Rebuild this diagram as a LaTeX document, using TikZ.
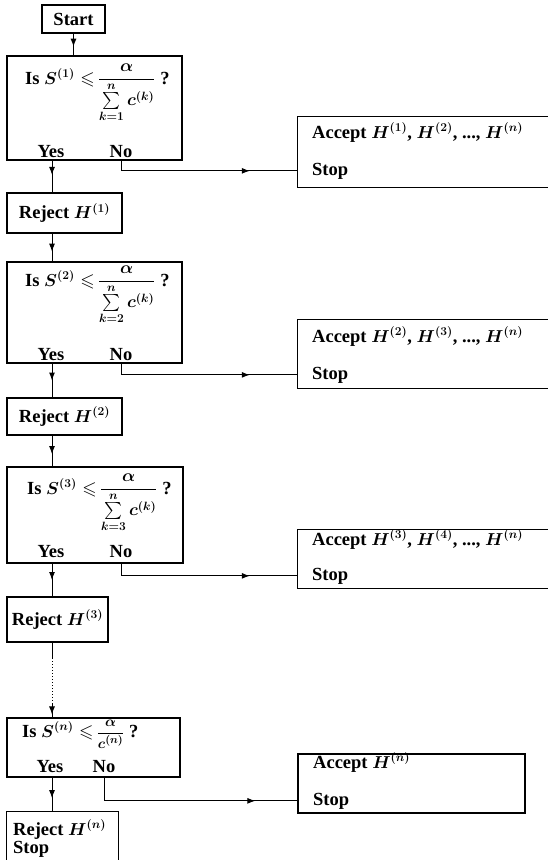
\documentclass[tikz,border=0pt]{standalone}
\usepackage{amsmath,amssymb}
\usepackage{fontspec}
\setmainfont{Liberation Serif}
\usetikzlibrary{arrows.meta,decorations.markings}
\newcommand{\fracsize}{\fontsize{17}{19}\selectfont}
\tikzset{
  frame/.style={draw, line width=1.3pt, rectangle, inner sep=0pt},
  openframe/.style={line width=1.3pt},
  hidden/.style={rectangle, inner sep=0pt},
  conn/.style={line width=1pt},
  midarrow/.style={postaction={decorate}, decoration={markings, mark=at position #1 with {\arrow{Latex[length=8pt,width=6pt]}}}},
  txt/.style={inner sep=0pt, font=\fontsize{18.5}{22}\selectfont\bfseries\boldmath},
}
\begin{document}
\begin{tikzpicture}[x=1pt,y=-1pt]
\useasboundingbox (0,0) rectangle (548,860);
\fill[white] (0,0) rectangle (548,860);
\coordinate (spine) at (52,0);

% Start
\node[frame, txt, minimum width=63pt, minimum height=28pt] (start) at (73.5,19) {Start};

% Question 1
\node[frame, minimum width=175pt, minimum height=104pt] (q1) at (94.5,108) {};
\node[txt, anchor=base west] (q1q) at (25,84) {Is $S^{(1)}\leqslant$\,{\fracsize$\dfrac{\alpha}{\sum\limits_{k=1}^{n} c^{(k)}}$}\ ?};
\node[txt, anchor=base] (y1) at (51,157) {Yes};
\node[txt, anchor=base] (n1) at (121,157) {No};

% Accept 1
\node[hidden, minimum width=250pt, minimum height=70pt] (acc1) at (423,152) {};
\draw[openframe] (acc1.north east) -- (acc1.north west) -- (acc1.south west) -- (acc1.south east);
\node[txt, anchor=base west] (a1t) at (312,138) {Accept $H^{(1)}$, $H^{(2)}$, ..., $H^{(n)}$};
\node[txt, anchor=base west] (a1s) at (312,175) {Stop};

% Reject 1
\node[frame, txt, minimum width=115pt, minimum height=40pt] (rej1) at (64.5,213) {Reject $H^{(1)}$};

% Question 2
\node[frame, minimum width=175pt, minimum height=101pt] (q2) at (94.5,312.5) {};
\node[txt, anchor=base west] (q2q) at (25,286) {Is $S^{(2)}\leqslant$\,{\fracsize$\dfrac{\alpha}{\sum\limits_{k=2}^{n} c^{(k)}}$}\ ?};
\node[txt, anchor=base] (y2) at (51,360) {Yes};
\node[txt, anchor=base] (n2) at (121,360) {No};

% Accept 2
\node[hidden, minimum width=250pt, minimum height=68pt] (acc2) at (423,354) {};
\draw[openframe] (acc2.north east) -- (acc2.north west) -- (acc2.south west) -- (acc2.south east);
\node[txt, anchor=base west] (a2t) at (312,342) {Accept $H^{(2)}$, $H^{(3)}$, ..., $H^{(n)}$};
\node[txt, anchor=base west] (a2s) at (312,379) {Stop};

% Reject 2
\node[frame, txt, minimum width=115pt, minimum height=37pt] (rej2) at (64.5,416.5) {Reject $H^{(2)}$};

% Question 3
\node[frame, minimum width=176pt, minimum height=96pt] (q3) at (95,515) {};
\node[txt, anchor=base west] (q3q) at (27,494) {Is $S^{(3)}\leqslant$\,{\fracsize$\dfrac{\alpha}{\sum\limits_{k=3}^{n} c^{(k)}}$}\ ?};
\node[txt, anchor=base] (y3) at (51,557) {Yes};
\node[txt, anchor=base] (n3) at (121,557) {No};

% Accept 3
\node[hidden, minimum width=250pt, minimum height=58pt] (acc3) at (423,559) {};
\draw[openframe] (acc3.north east) -- (acc3.north west) -- (acc3.south west) -- (acc3.south east);
\node[txt, anchor=base west] (a3t) at (312,545) {Accept $H^{(3)}$, $H^{(4)}$, ..., $H^{(n)}$};
\node[txt, anchor=base west] (a3s) at (312,580) {Stop};

% Reject 3
\node[frame, txt, minimum width=101pt, minimum height=45pt] (rej3) at (57.5,619.5) {Reject $H^{(3)}$};

% Question n
\node[frame, minimum width=173pt, minimum height=59pt] (q4) at (93.5,747.5) {};
\node[txt, anchor=base west] (q4q) at (22,737) {Is $S^{(n)}\leqslant$\,{\fontsize{15}{17}\selectfont$\dfrac{\alpha}{c^{(n)}}$}\ ?};
\node[txt, anchor=base] (y4) at (50,772) {Yes};
\node[txt, anchor=base] (n4) at (104,772) {No};

% Accept n
\node[frame, minimum width=227pt, minimum height=59pt] (acc4) at (411.5,783.5) {};
\node[txt, anchor=base west] (a4t) at (313,768) {Accept $H^{(n)}$};
\node[txt, anchor=base west] (a4s) at (313,805) {Stop};

% Reject n
\node[hidden, minimum width=111pt, minimum height=48pt] (rejn) at (62.5,836) {};
\draw[openframe] (rejn.south west) -- (rejn.north west) -- (rejn.north east) -- (rejn.south east);
\node[txt, anchor=base west] (rnt) at (13,835) {Reject $H^{(n)}$};
\node[txt, anchor=base west] (rns) at (13,853) {Stop};

% Connectors
\draw[conn, midarrow=0.6] (start.south) -- (start.south |- q1.north);
\draw[conn, midarrow=0.45] (spine |- q1.south) -- (spine |- rej1.north);
\draw[conn, midarrow=-48pt] (n1 |- q1.south) |- (acc1.west |- a1s);
\draw[conn, midarrow=0.65] (spine |- rej1.south) -- (spine |- q2.north);
\draw[conn, midarrow=0.5] (spine |- q2.south) -- (spine |- rej2.north);
\draw[conn, midarrow=-48pt] (n2 |- q2.south) |- (acc2.west |- a2s);
\draw[conn, midarrow=0.6] (spine |- rej2.south) -- (spine |- q3.north);
\draw[conn, midarrow=0.5] (spine |- q3.south) -- (spine |- rej3.north);
\draw[conn, midarrow=-48pt] (n3 |- q3.south) |- (acc3.west |- a3s);
\coordinate (d1) at (52,658);
\coordinate (d2) at (52,703);
\draw[conn] (spine |- rej3.south) -- (d1);
\draw[conn, dotted] (d1) -- (d2);
\draw[conn, midarrow=0.8] (d2) -- (spine |- q4.north);
\draw[conn, midarrow=0.6] (spine |- q4.south) -- (spine |- rejn.north);
\draw[conn, midarrow=-42pt] (n4 |- q4.south) |- (acc4.west |- a4s);
\end{tikzpicture}
\end{document}
